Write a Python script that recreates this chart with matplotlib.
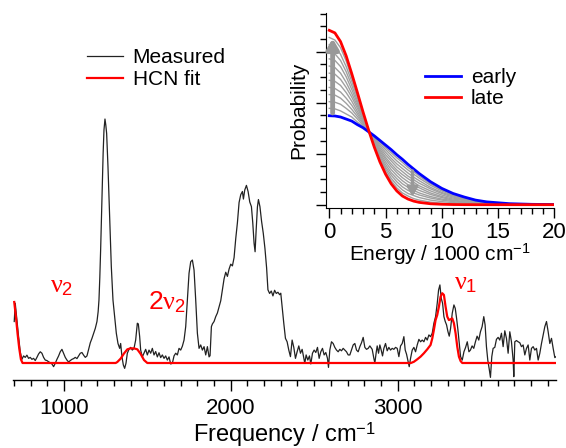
import matplotlib
matplotlib.use("Agg")
import matplotlib.pyplot as plt
from matplotlib.ticker import MultipleLocator, FixedLocator, NullFormatter

plt.rcParams['font.family'] = ['Liberation Sans', 'DejaVu Sans']
plt.rcParams['mathtext.fontset'] = 'custom'
plt.rcParams['mathtext.rm'] = 'Liberation Sans'
plt.rcParams['mathtext.it'] = 'Liberation Serif'
plt.rcParams['mathtext.bf'] = 'Liberation Sans:bold'

# ---------------- data: measured spectrum ----------------
freq = [702, 708, 718, 728, 738, 748, 758, 768, 778, 788, 798, 808, 818, 828, 838, 848, 858, 868, 878, 888,
        898, 908, 918, 928, 938, 948, 958, 968, 978, 988, 998, 1008, 1018, 1028, 1038, 1048, 1058, 1068, 1078, 1088,
        1098, 1108, 1118, 1128, 1138, 1148, 1158, 1168, 1178, 1188, 1198, 1205, 1210, 1215, 1220, 1225, 1230, 1235, 1240, 1246,
        1251, 1256, 1264, 1274, 1284, 1294, 1304, 1314, 1324, 1334, 1340, 1348, 1356, 1364, 1372, 1380, 1390, 1400, 1410, 1420,
        1430, 1440, 1446, 1454, 1460, 1470, 1480, 1490, 1500, 1510, 1520, 1530, 1540, 1550, 1560, 1570, 1580, 1590, 1600, 1610,
        1620, 1630, 1640, 1650, 1660, 1670, 1680, 1690, 1700, 1710, 1720, 1730, 1740, 1750, 1760, 1770, 1780, 1790, 1800, 1810,
        1820, 1830, 1840, 1850, 1860, 1870, 1876, 1884, 1890, 1900, 1910, 1920, 1930, 1940, 1950, 1960, 1970, 1980, 1990, 2000,
        2010, 2020, 2030, 2040, 2050, 2060, 2070, 2076, 2084, 2094, 2104, 2114, 2124, 2132, 2140, 2146, 2152, 2160, 2166, 2175,
        2185, 2195, 2205, 2215, 2223, 2233, 2243, 2253, 2263, 2273, 2283, 2293, 2300, 2308, 2318, 2328, 2338, 2348, 2358, 2368,
        2378, 2388, 2398, 2408, 2418, 2428, 2438, 2444, 2452, 2462, 2472, 2480, 2490, 2500, 2510, 2520, 2530, 2540, 2550, 2560,
        2570, 2580, 2586, 2594, 2604, 2614, 2624, 2634, 2644, 2654, 2664, 2674, 2684, 2694, 2704, 2714, 2724, 2734, 2744, 2754,
        2764, 2774, 2784, 2794, 2804, 2814, 2824, 2834, 2848, 2858, 2864, 2872, 2878, 2886, 2894, 2902, 2910, 2918, 2928, 2938,
        2948, 2958, 2968, 2978, 2988, 2998, 3008, 3018, 3028, 3038, 3046, 3054, 3062, 3070, 3078, 3088, 3098, 3108, 3118, 3128,
        3138, 3148, 3158, 3168, 3178, 3188, 3198, 3208, 3218, 3228, 3238, 3246, 3254, 3262, 3270, 3278, 3286, 3294, 3302, 3310,
        3318, 3328, 3338, 3346, 3354, 3362, 3370, 3378, 3388, 3398, 3408, 3418, 3428, 3437, 3447, 3457, 3467, 3477, 3487, 3497,
        3507, 3517, 3525, 3533, 3541, 3549, 3557, 3565, 3573, 3583, 3593, 3603, 3613, 3623, 3633, 3643, 3653, 3663, 3673, 3683,
        3693, 3697, 3703, 3713, 3723, 3733, 3743, 3753, 3763, 3773, 3783, 3793, 3803, 3813, 3823, 3833, 3843, 3853, 3863, 3873,
        3883, 3893, 3903, 3913, 3923, 3933, 3943, 3950]
measured = [0.17, 0.245, 0.176, 0.108, 0.046, 0.015, 0.029, 0.023, 0.032, 0.019, 0.023, 0.015, 0.019, 0.010, 0.023, 0.037, 0.046, 0.040, 0.023, 0.012,
            0.010, 0.005, 0.001, -0.004, -0.015, -0.001, 0.015, 0.029, 0.046, 0.056, 0.040, 0.023, 0.012, 0.004, 0.010, 0.015, 0.018, 0.023, 0.018, 0.029,
            0.040, 0.043, 0.032, 0.023, 0.029, 0.056, 0.083, 0.101, 0.122, 0.142, 0.170, 0.21, 0.258, 0.35, 0.464, 0.60, 0.736, 0.86, 0.955, 1.0,
            0.975, 0.941, 0.805, 0.60, 0.395, 0.258, 0.19, 0.122, 0.08, 0.06, 0.08, 0.025, -0.008, -0.022, -0.001, 0.04, 0.056, 0.064, 0.053, 0.06,
            0.094, 0.163, 0.16, 0.108, 0.053, 0.025, 0.04, 0.056, 0.033, 0.053, 0.04, 0.06, 0.033, 0.047, 0.025, 0.042, 0.022, 0.033, 0.019, 0.029,
            0.012, 0.025, -0.004, -0.001, 0.029, 0.04, 0.033, 0.06, 0.053, 0.069, 0.094, 0.149, 0.258, 0.368, 0.415, 0.422, 0.381, 0.258, 0.122, 0.06,
            0.074, 0.053, 0.067, 0.033, 0.067, 0.025, 0.03, 0.149, 0.16, 0.17, 0.19, 0.205, 0.23, 0.255, 0.30, 0.345, 0.372, 0.355, 0.385, 0.405,
            0.398, 0.432, 0.51, 0.575, 0.658, 0.69, 0.703, 0.672, 0.709, 0.728, 0.703, 0.66, 0.641, 0.575, 0.49, 0.456, 0.54, 0.64, 0.67, 0.641,
            0.58, 0.532, 0.47, 0.39, 0.30, 0.285, 0.295, 0.275, 0.298, 0.285, 0.29, 0.28, 0.286, 0.231, 0.163, 0.101, 0.087, 0.053, 0.026, 0.094,
            0.064, 0.019, 0.046, 0.07, 0.04, 0.056, 0.019, -0.001, 0.033, 0.012, 0.029, -0.004, 0.04, 0.053, 0.043, 0.064, 0.019, 0.046, 0.06, 0.033,
            0.043, 0.019, -0.018, 0.053, 0.087, 0.08, 0.064, 0.053, 0.046, 0.056, 0.05, 0.06, 0.053, 0.046, 0.033, 0.033, 0.053, 0.074, 0.08, 0.053,
            0.046, 0.067, 0.083, 0.105, 0.064, 0.056, 0.06, 0.07, 0.056, 0.019, 0.0, 0.043, 0.07, 0.04, 0.074, 0.053, 0.029, 0.06, 0.08, 0.05,
            0.064, 0.053, 0.06, 0.056, 0.064, 0.06, 0.026, 0.07, 0.08, 0.108, 0.053, 0.036, 0.011, -0.015, 0.019, 0.053, 0.064, 0.046, 0.074, 0.097,
            0.087, 0.094, 0.087, 0.105, 0.094, 0.115, 0.108, 0.122, 0.163, 0.19, 0.245, 0.299, 0.32, 0.265, 0.245, 0.19, 0.17, 0.156, 0.129, 0.11,
            0.142, 0.204, 0.238, 0.224, 0.183, 0.136, 0.08, 0.026, 0.012, 0.046, 0.064, 0.087, 0.046, 0.053, 0.07, 0.06, 0.087, 0.11, 0.094, 0.128,
            0.149, 0.19, 0.156, 0.067, 0.012, -0.022, -0.059, 0.026, 0.06, 0.064, 0.097, 0.105, 0.094, 0.122, 0.067, 0.132, 0.101, 0.04, 0.128, 0.087,
            0.012, -0.056, 0.087, 0.092, 0.087, 0.083, 0.067, 0.074, 0.033, 0.06, 0.074, 0.012, 0.06, 0.067, 0.053, 0.06, 0.012, 0.04, 0.08, 0.115,
            0.149, 0.17, 0.128, 0.08, 0.101, 0.06, 0.022, 0.026]

# ---------------- data: HCN fit ----------------
fit_freq = [702, 712, 722, 732, 742, 752, 1310, 1320, 1340, 1360, 1380, 1400, 1420, 1440, 1460, 1480, 1500,
            3080, 3098, 3118, 3138, 3158, 3178, 3198, 3208, 3218, 3228, 3238, 3248, 3258, 3268, 3278, 3288, 3298,
            3308, 3318, 3328, 3338, 3348, 3358, 3368, 3378, 3388, 3950]
fit_vals = [0.25, 0.19, 0.12, 0.06, 0.015, 0.0, 0.0, 0.004, 0.018, 0.039, 0.056, 0.06, 0.06, 0.056, 0.037, 0.012, 0.0,
            0.0, 0.005, 0.015, 0.026, 0.04, 0.056, 0.074, 0.10, 0.136, 0.176, 0.197, 0.231, 0.272, 0.286, 0.279, 0.231, 0.19,
            0.176, 0.179, 0.183, 0.163, 0.122, 0.067, 0.026, 0.008, 0.0, 0.0]

freq_ticks = [1000, 2000, 3000]

# ---------------- data: inset energy distributions ----------------
energy = [0, 0.5, 1, 1.5, 2, 2.5, 3, 3.5, 4, 4.5, 5, 5.5, 6, 6.5, 7, 7.5, 8, 9, 10, 11, 12, 13, 14, 16, 18, 20]
early = [1.745, 1.74, 1.72, 1.68, 1.64, 1.57, 1.51, 1.43, 1.35, 1.26, 1.17, 1.08, 0.98, 0.89, 0.79, 0.70, 0.61,
         0.45, 0.32, 0.22, 0.15, 0.09, 0.055, 0.02, 0.007, 0.002]
late = [3.42, 3.37, 3.20, 2.92, 2.57, 2.20, 1.82, 1.46, 1.13, 0.84, 0.60, 0.41, 0.27, 0.17, 0.11, 0.07, 0.045,
        0.018, 0.008, 0.003, 0.001, 0, 0, 0, 0, 0]
gray_curves = [
    [1.89, 1.88, 1.84, 1.78, 1.72, 1.62, 1.54, 1.43, 1.33, 1.225, 1.12, 1.02, 0.92, 0.83, 0.73, 0.65, 0.56, 0.41, 0.29, 0.20, 0.14, 0.083, 0.05, 0.018, 0.006, 0.002],
    [2.02, 2.01, 1.97, 1.89, 1.80, 1.68, 1.56, 1.43, 1.31, 1.19, 1.08, 0.97, 0.86, 0.77, 0.68, 0.60, 0.52, 0.38, 0.27, 0.18, 0.13, 0.075, 0.046, 0.017, 0.006, 0.002],
    [2.16, 2.15, 2.09, 1.99, 1.87, 1.73, 1.59, 1.44, 1.30, 1.155, 1.03, 0.91, 0.80, 0.71, 0.62, 0.54, 0.47, 0.34, 0.24, 0.17, 0.11, 0.068, 0.041, 0.015, 0.005, 0.002],
    [2.30, 2.28, 2.21, 2.09, 1.95, 1.78, 1.61, 1.44, 1.28, 1.12, 0.98, 0.86, 0.74, 0.65, 0.56, 0.49, 0.42, 0.31, 0.22, 0.15, 0.10, 0.06, 0.037, 0.013, 0.005, 0.001],
    [2.44, 2.42, 2.34, 2.20, 2.03, 1.83, 1.64, 1.44, 1.26, 1.085, 0.93, 0.80, 0.68, 0.59, 0.51, 0.44, 0.37, 0.27, 0.19, 0.13, 0.09, 0.053, 0.032, 0.012, 0.004, 0.001],
    [2.58, 2.56, 2.46, 2.30, 2.11, 1.89, 1.67, 1.44, 1.24, 1.05, 0.89, 0.75, 0.63, 0.53, 0.45, 0.39, 0.33, 0.23, 0.16, 0.11, 0.08, 0.045, 0.028, 0.010, 0.004, 0.001],
    [2.72, 2.69, 2.58, 2.40, 2.18, 1.94, 1.69, 1.45, 1.22, 1.015, 0.84, 0.69, 0.57, 0.47, 0.39, 0.33, 0.28, 0.20, 0.14, 0.09, 0.06, 0.038, 0.023, 0.008, 0.003, 0.001],
    [2.86, 2.83, 2.71, 2.51, 2.26, 1.99, 1.72, 1.45, 1.20, 0.98, 0.79, 0.63, 0.51, 0.41, 0.34, 0.28, 0.23, 0.16, 0.11, 0.08, 0.05, 0.03, 0.018, 0.007, 0.002, 0.001],
    [3.00, 2.96, 2.83, 2.61, 2.34, 2.04, 1.74, 1.45, 1.19, 0.945, 0.74, 0.58, 0.45, 0.35, 0.28, 0.23, 0.19, 0.13, 0.09, 0.06, 0.04, 0.023, 0.014, 0.005, 0.002, 0.0],
    [3.14, 3.10, 2.95, 2.71, 2.42, 2.10, 1.77, 1.45, 1.17, 0.91, 0.70, 0.52, 0.39, 0.29, 0.22, 0.18, 0.14, 0.09, 0.06, 0.04, 0.03, 0.015, 0.009, 0.003, 0.001, 0.0],
    [3.28, 3.23, 3.08, 2.82, 2.49, 2.15, 1.79, 1.46, 1.15, 0.875, 0.65, 0.47, 0.33, 0.23, 0.17, 0.12, 0.09, 0.05, 0.03, 0.02, 0.01, 0.008, 0.005, 0.002, 0.001, 0.0],
]

# ---------------- figure ----------------
W, H = 566, 448
fig = plt.figure(figsize=(W / 100, H / 100), dpi=100)


def px_rect(x0, y0, x1, y1):
    return [x0 / W, 1 - y1 / H, (x1 - x0) / W, (y1 - y0) / H]


ax = fig.add_axes(px_rect(13.4, 100, 555.5, 380))
ax.patch.set_alpha(0)
ax.plot(freq, measured, color='#222222', lw=0.9, label='Measured')
ax.plot(fit_freq, fit_vals, color='#ff0000', lw=1.6, label='HCN fit')
ax.set_xlim(697, 3947)
ax.set_ylim(-0.0697, 1.078)
for s in ['left', 'right', 'top']:
    ax.spines[s].set_visible(False)
ax.spines['bottom'].set_linewidth(1.0)
ax.yaxis.set_visible(False)
ax.xaxis.set_major_locator(FixedLocator(freq_ticks))
ax.xaxis.set_minor_locator(MultipleLocator(100))
ax.tick_params(axis='x', which='major', length=8, width=1, direction='out', labelsize=16, pad=5)
ax.tick_params(axis='x', which='minor', length=4, width=1, direction='out')
ax.set_xlabel('Frequency / cm$^{-1}$', fontsize=17, labelpad=1)

ax.legend(loc='upper left', bbox_to_anchor=(86.7 / W, 1 - 48 / H), bbox_transform=fig.transFigure,
          frameon=False, fontsize=15, handlelength=1.75, handletextpad=0.45, labelspacing=0.15,
          borderpad=0, borderaxespad=0)

ax.text(986, 0.316, r'$\nu_2$', color='#ff0000', fontsize=19, ha='center', va='center')
ax.text(1615, 0.25, r'$2\nu_2$', color='#ff0000', fontsize=19, ha='center', va='center')
ax.text(3409, 0.328, r'$\nu_1$', color='#ff0000', fontsize=19, ha='center', va='center')

# ---------------- inset ----------------
ax2 = fig.add_axes(px_rect(326, 13, 554.3, 208))
ax2.patch.set_alpha(0)
for curve in gray_curves:
    ax2.plot(energy, curve, color='#a0a0a0', lw=1.0)
ax2.plot(energy, early, color='#0000ff', lw=2, label='early')
ax2.plot(energy, late, color='#ff0000', lw=2, label='late')

ax2.annotate('', xy=(0.3, 3.26), xytext=(0.3, 1.8),
             arrowprops=dict(arrowstyle='-|>,head_length=0.6,head_width=0.35', color='#999999',
                             lw=3.5, shrinkA=0, shrinkB=0))
ax2.annotate('', xy=(7.4, 0.16), xytext=(7.4, 0.66),
             arrowprops=dict(arrowstyle='-|>,head_length=0.5,head_width=0.3', color='#999999',
                             lw=2.5, shrinkA=0, shrinkB=0))

ax2.set_xlim(-0.29, 20)
ax2.set_ylim(-0.065, 3.76)
for s in ['right', 'top']:
    ax2.spines[s].set_visible(False)
ax2.xaxis.set_major_locator(MultipleLocator(5))
ax2.xaxis.set_minor_locator(MultipleLocator(1))
ax2.yaxis.set_major_locator(MultipleLocator(1))
ax2.yaxis.set_minor_locator(MultipleLocator(0.25))
ax2.yaxis.set_major_formatter(NullFormatter())
ax2.tick_params(axis='both', which='major', length=7, width=1, direction='out', labelsize=16, pad=3)
ax2.tick_params(axis='both', which='minor', length=4, width=1, direction='out')
ax2.set_xlabel('Energy / 1000 cm$^{-1}$', fontsize=15, labelpad=-1)
ax2.set_ylabel('Probability', fontsize=15, labelpad=3)

ax2.legend(loc='upper left', bbox_to_anchor=(425 / W, 1 - 68 / H), bbox_transform=fig.transFigure,
           frameon=False, fontsize=15, handlelength=1.75, handletextpad=0.45, labelspacing=0.12,
           borderpad=0, borderaxespad=0)

fig.savefig('out.png', dpi=100)
